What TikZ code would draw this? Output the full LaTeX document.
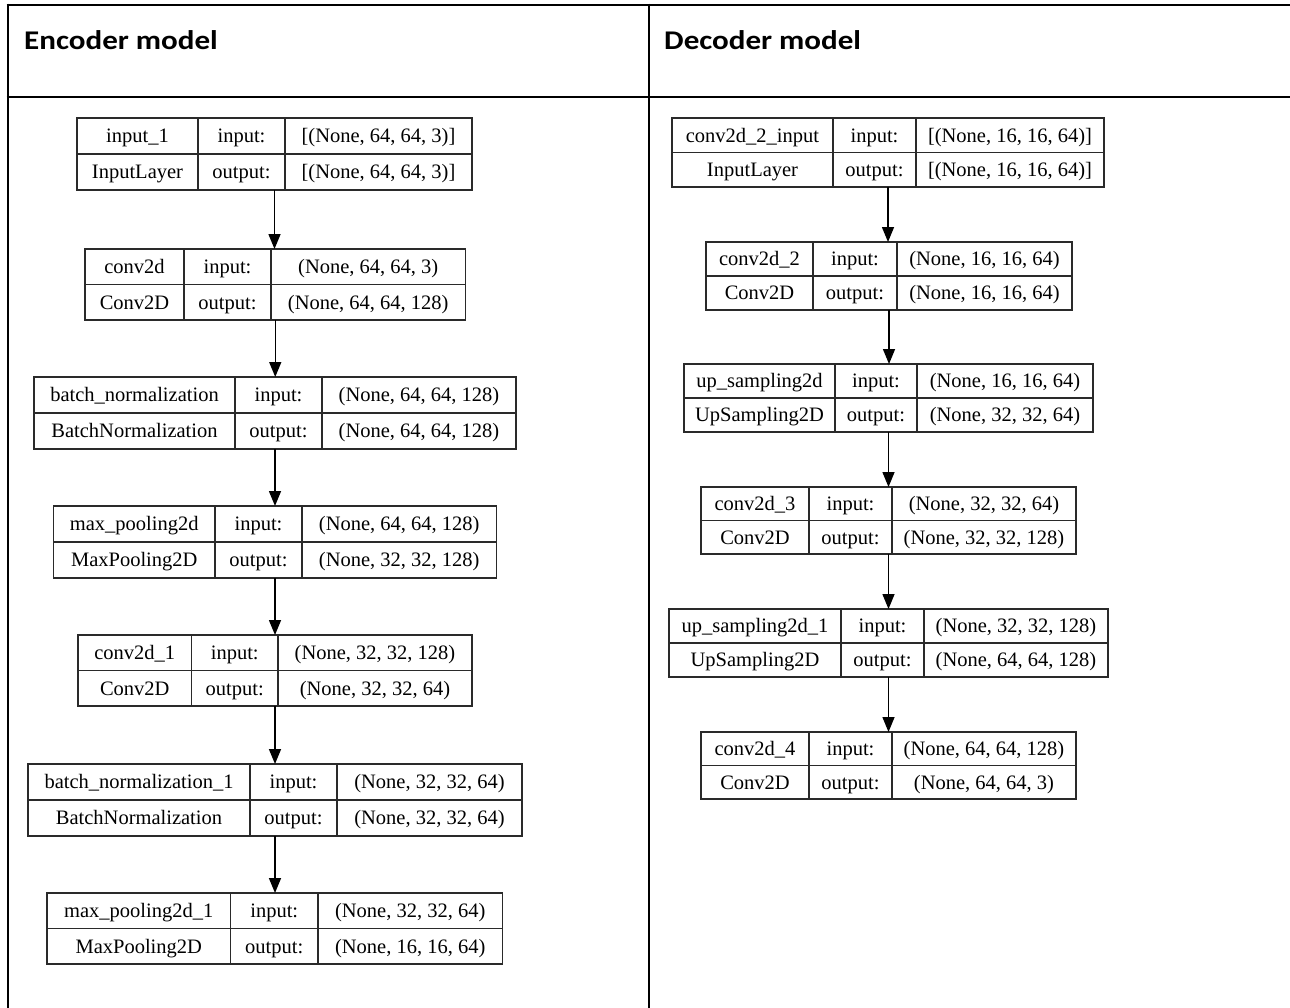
\documentclass[tikz,border=0pt]{standalone}
\usepackage{fontspec}
\setmainfont{Liberation Serif}
\newfontfamily\hdfont{Carlito}
\usetikzlibrary{arrows.meta}
\definecolor{boxgray}{HTML}{2A2A2A}
\tikzset{
  recnode/.style={draw=boxgray, line width=1.4pt, inner sep=0pt, outer sep=0pt},
  cellline/.style={draw=boxgray, line width=1.4pt},
  celltext/.style={inner sep=0pt, text height=13.5pt, text depth=0pt, anchor=center,
    font=\fontsize{20.5}{24}\selectfont},
  flow/.style={line width=1.5pt, -{Triangle[length=15pt,width=12pt]}},
  tableline/.style={line width=2.6pt, black},
  heading/.style={anchor=base west, inner sep=0pt, font=\hdfont\bfseries\fontsize{27}{30}\selectfont},
}
% name, x0, x1, x2, x3, ytop, ybottom
\newcommand\recbox[7]{%
  \node[recnode, anchor=north west, minimum width={#5pt-#2pt}, minimum height={#7pt-#6pt}] (#1) at (#2,#6) {};
  \draw[cellline] (#3,#6) -- (#3,#7) (#4,#6) -- (#4,#7) (#2,{(#6+#7)/2}) -- (#5,{(#6+#7)/2});
  \coordinate (#1-11) at ({(#2+#3)/2},{#6+(#7-#6)/4});
  \coordinate (#1-12) at ({(#3+#4)/2},{#6+(#7-#6)/4});
  \coordinate (#1-13) at ({(#4+#5)/2},{#6+(#7-#6)/4});
  \coordinate (#1-21) at ({(#2+#3)/2},{#6+3*(#7-#6)/4});
  \coordinate (#1-22) at ({(#3+#4)/2},{#6+3*(#7-#6)/4});
  \coordinate (#1-23) at ({(#4+#5)/2},{#6+3*(#7-#6)/4});
}
\newcommand\rectext[7]{%
  \node[celltext] (#1-t11) at (#1-11) {#2};
  \node[celltext] (#1-t12) at (#1-12) {#3};
  \node[celltext] (#1-t13) at (#1-13) {#4};
  \node[celltext] (#1-t21) at (#1-21) {#5};
  \node[celltext] (#1-t22) at (#1-22) {#6};
  \node[celltext] (#1-t23) at (#1-23) {#7};
}
\begin{document}
\begin{tikzpicture}[x=1pt,y=-1pt]
\useasboundingbox (0,0) rectangle (1290,1007);
\fill[white] (0,0) rectangle (1290,1007);
% table frame
\draw[tableline] (6.7,5) -- (1292,5) (6.7,97) -- (1292,97)
  (8,3.7) -- (8,1010) (649,3.7) -- (649,1010);
\node[heading] (enchd) at (24,49.5) {\scalebox{1.15}[1]{Encoder model}};
\node[heading] (dechd) at (664,49.5) {\scalebox{1.15}[1]{Decoder model}};

% encoder
\recbox{e1}{77}{198}{285}{472}{118}{190}
\rectext{e1}{input\_1}{input:}{[(None, 64, 64, 3)]}{InputLayer}{output:}{[(None, 64, 64, 3)]}
\recbox{e2}{85}{184}{271}{465.5}{249}{320}
\rectext{e2}{conv2d}{input:}{(None, 64, 64, 3)}{Conv2D}{output:}{(None, 64, 64, 128)}
\recbox{e3}{34}{235}{322}{516}{377}{449}
\rectext{e3}{batch\_normalization}{input:}{(None, 64, 64, 128)}{BatchNormalization}{output:}{(None, 64, 64, 128)}
\recbox{e4}{53.5}{215}{302}{496.5}{506}{578}
\rectext{e4}{max\_pooling2d}{input:}{(None, 64, 64, 128)}{MaxPooling2D}{output:}{(None, 32, 32, 128)}
\recbox{e5}{78}{191.5}{278}{472}{635}{706}
\rectext{e5}{conv2d\_1}{input:}{(None, 32, 32, 128)}{Conv2D}{output:}{(None, 32, 32, 64)}
\recbox{e6}{28}{250}{337}{522}{764}{836}
\rectext{e6}{batch\_normalization\_1}{input:}{(None, 32, 32, 64)}{BatchNormalization}{output:}{(None, 32, 32, 64)}
\recbox{e7}{47}{230.5}{318}{502.5}{893}{964}
\rectext{e7}{max\_pooling2d\_1}{input:}{(None, 32, 32, 64)}{MaxPooling2D}{output:}{(None, 16, 16, 64)}

% decoder
\recbox{d1}{672}{833}{916}{1104}{118}{187}
\rectext{d1}{conv2d\_2\_input}{input:}{[(None, 16, 16, 64)]}{InputLayer}{output:}{[(None, 16, 16, 64)]}
\recbox{d2}{706}{813}{897}{1072}{242}{310}
\rectext{d2}{conv2d\_2}{input:}{(None, 16, 16, 64)}{Conv2D}{output:}{(None, 16, 16, 64)}
\recbox{d3}{684}{835}{917}{1093}{364}{432}
\rectext{d3}{up\_sampling2d}{input:}{(None, 16, 16, 64)}{UpSampling2D}{output:}{(None, 32, 32, 64)}
\recbox{d4}{701}{809}{892}{1076}{487}{554}
\rectext{d4}{conv2d\_3}{input:}{(None, 32, 32, 64)}{Conv2D}{output:}{(None, 32, 32, 128)}
\recbox{d5}{669}{841}{924}{1108}{609}{677}
\rectext{d5}{up\_sampling2d\_1}{input:}{(None, 32, 32, 128)}{UpSampling2D}{output:}{(None, 64, 64, 128)}
\recbox{d6}{701}{809}{892}{1076}{732}{799}
\rectext{d6}{conv2d\_4}{input:}{(None, 64, 64, 128)}{Conv2D}{output:}{(None, 64, 64, 3)}

% connectors
\foreach \a/\b in {e1/e2,e2/e3,e3/e4,e4/e5,e5/e6,e6/e7,d1/d2,d2/d3,d3/d4,d4/d5,d5/d6}
  \draw[flow] (\a.south) -- (\a.south |- \b.north);
\end{tikzpicture}
\end{document}
